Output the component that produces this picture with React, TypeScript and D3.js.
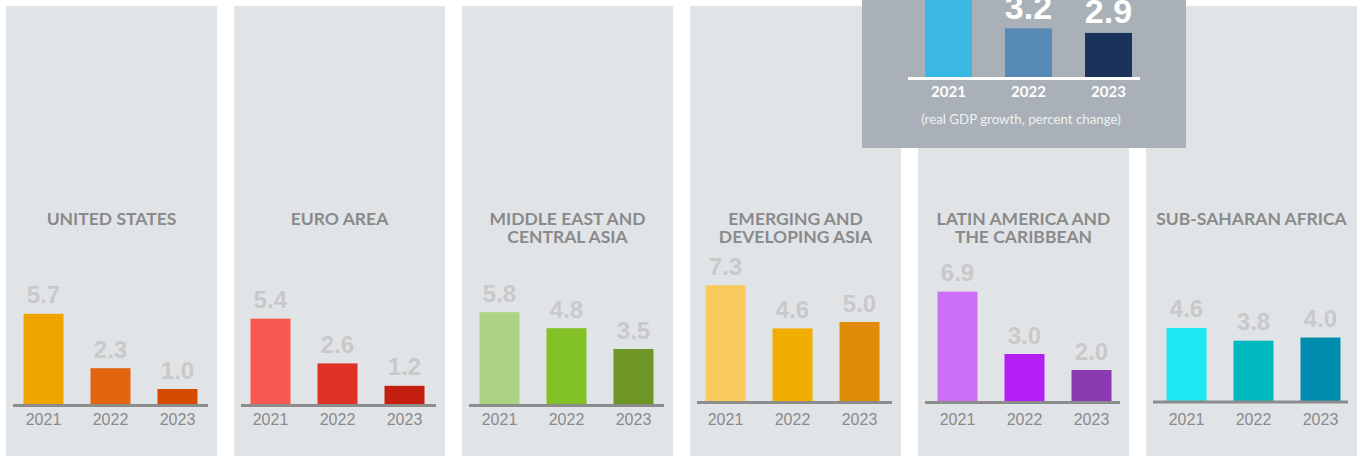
import React from "react";
import * as d3 from "d3";

const years = ["2021", "2022", "2023"];
const regionTitles: string[][] = [
  ["UNITED STATES"],
  ["EURO AREA"],
  ["MIDDLE EAST AND", "CENTRAL ASIA"],
  ["EMERGING AND", "DEVELOPING ASIA"],
  ["LATIN AMERICA AND", "THE CARIBBEAN"],
  ["SUB-SAHARAN AFRICA"],
];
const usValues = [5.7, 2.3, 1.0];
const euroValues = [5.4, 2.6, 1.2];
const mecaValues = [5.8, 4.8, 3.5];
const asiaValues = [7.3, 4.6, 5.0];
const latamValues = [6.9, 3.0, 2.0];
const ssaValues = [4.6, 3.8, 4.0];
const regionValues = [usValues, euroValues, mecaValues, asiaValues, latamValues, ssaValues];
const regionColors = [
  ["#efa400", "#e4650f", "#d64a00"],
  ["#f95850", "#dd3224", "#c41e0e"],
  ["#acd383", "#82c226", "#6e9624"],
  ["#f8c95b", "#f2ae00", "#e08c07"],
  ["#cc6ef8", "#b41ff5", "#8a3ab0"],
  ["#1ee8f4", "#00b8bf", "#018db0"],
];
const worldValues = [6.1, 3.2, 2.9];
const worldColors = ["#3bb9e4", "#568ab5", "#1b325a"];
const worldNote = "(real GDP growth, percent change)";

const W = 1362;
const H = 456;
const panelW = 211;
const panelStep = 228;
const panelX0 = 6;
const panelTop = 6;
const pxPerUnit = 16;
const barShift = [0, -1, 0, -2, 2, 3];
const baselines = [405, 405, 405, 402, 402, 401.5];

export default function App() {
  const band = d3
    .scaleBand<string>()
    .domain(years)
    .range([7, 202])
    .paddingInner(27 / 67)
    .paddingOuter(10.5 / 67);

  const worldBand = d3
    .scaleBand<string>()
    .domain(years)
    .range([908.5, 1148.5])
    .paddingInner(33 / 80)
    .paddingOuter(16.5 / 80);
  const worldBase = 77;
  const worldY = d3.scaleLinear().domain([0, 1]).range([worldBase, worldBase - 15.2]);

  return (
    <svg
      width={W}
      height={H}
      style={{ position: "absolute", left: 0, top: 0, background: "#ffffff" }}
    >
      {regionTitles.map((title, i) => {
        const px = panelX0 + i * panelStep;
        const base = baselines[i];
        const y = d3.scaleLinear().domain([0, 1]).range([base, base - pxPerUnit]);
        const vals = regionValues[i];
        return (
          <g key={i}>
            <rect x={px} y={panelTop} width={panelW} height={H} fill="#e1e4e7" />
            {title.map((line, j) => (
              <text
                key={j}
                x={px + panelW / 2}
                y={224.5 + j * 18.5}
                textAnchor="middle"
                fontFamily="Lato"
                fontWeight={700}
                fontSize={17.5}
                fill="#8a8a8a"
              >
                {line}
              </text>
            ))}
            {vals.map((v, k) => {
              const bx = px + barShift[i] + (band(years[k]) as number);
              const bw = band.bandwidth();
              return (
                <g key={k}>
                  <rect x={bx} y={y(v)} width={bw} height={base - y(v)} fill={regionColors[i][k]} />
                  <text
                    x={bx + bw / 2}
                    y={y(v) - 10.5}
                    textAnchor="middle"
                    fontFamily="Liberation Sans"
                    fontWeight={700}
                    fontSize={24}
                    fill="#c9c9c9"
                  >
                    {v.toFixed(1)}
                  </text>
                  <text
                    x={bx + bw / 2}
                    y={425}
                    textAnchor="middle"
                    fontFamily="Liberation Sans"
                    fontSize={16}
                    fill="#8a8a8a"
                  >
                    {years[k]}
                  </text>
                </g>
              );
            })}
            <line
              x1={px + 7}
              x2={px + 202}
              y1={base + 0.5}
              y2={base + 0.5}
              stroke="#8c8c8c"
              strokeWidth={3}
            />
          </g>
        );
      })}

      <g>
        <rect x={862} y={-10} width={324} height={158} fill="#a9b0b7" />
        {worldValues.map((v, k) => {
          const bx = worldBand(years[k]) as number;
          const bw = worldBand.bandwidth();
          return (
            <g key={k}>
              <rect x={bx} y={worldY(v)} width={bw} height={worldBase - worldY(v)} fill={worldColors[k]} />
              <text
                x={bx + bw / 2}
                y={worldY(v) - 9.5}
                textAnchor="middle"
                fontFamily="Liberation Sans"
                fontWeight={700}
                fontSize={34}
                fill="#ffffff"
              >
                {v.toFixed(1)}
              </text>
              <text
                x={bx + bw / 2}
                y={97}
                textAnchor="middle"
                fontFamily="Lato"
                fontWeight={700}
                fontSize={15}
                fill="#ffffff"
              >
                {years[k]}
              </text>
            </g>
          );
        })}
        <line x1={908} x2={1140} y1={78.5} y2={78.5} stroke="#ffffff" strokeWidth={3} />
        <text
          x={1021}
          y={124}
          textAnchor="middle"
          fontFamily="Lato"
          fontSize={13.3}
          fill="#eef0f2"
        >
          {worldNote}
        </text>
      </g>
    </svg>
  );
}
